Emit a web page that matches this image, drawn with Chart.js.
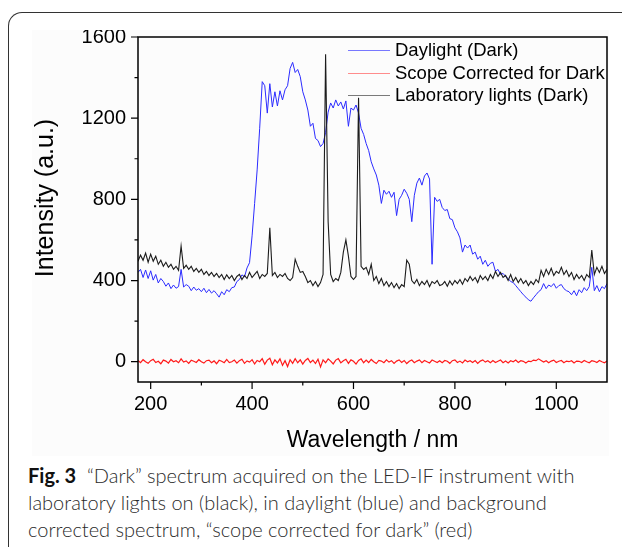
<!DOCTYPE html>
<html>
<head>
<meta charset="utf-8">
<title>Dark spectrum – LED-IF</title>
<script src="https://cdn.jsdelivr.net/npm/chart.js@4/dist/chart.umd.min.js"></script>
<style>
    html, body { margin: 0; padding: 0; background: #fff; overflow: hidden; }
    body { width: 622px; height: 547px; position: relative; }
    .frame {
        position: absolute; left: 8px; top: 12px; width: 660px; height: 600px;
        border-left: 1.5px solid #333; border-top: 1.5px solid #333;
        border-top-left-radius: 14px;
    }
    #spectrumChart { position: absolute; left: 32px; top: 30px; background: #fcfcfc; }
    .caption {
        position: absolute; left: 28px; top: 462px; width: 590px;
        font-family: 'Lato', 'Open Sans', sans-serif; font-weight: 300;
        font-size: 20px; line-height: 27px; color: #2a2a2a;
    }
    .caption b { font-weight: 700; color: #111; }
</style>
</head>
<body>
<div class="frame"></div>
<canvas id="spectrumChart" width="577" height="426"></canvas>
<div class="caption">
    <b>Fig. 3</b>&nbsp; “Dark” spectrum acquired on the LED-IF instrument with<br>
    laboratory lights on (black), in daylight (blue) and background<br>
    corrected spectrum, “scope corrected for dark” (red)
</div>

<script>
// Wavelength grid (nm), 5 nm steps
const wavelengths = [
    175, 180, 185, 190, 195, 200, 205, 210, 215, 220,
    225, 230, 235, 240, 245, 250, 255, 260, 265, 270,
    275, 280, 285, 290, 295, 300, 305, 310, 315, 320,
    325, 330, 335, 340, 345, 350, 355, 360, 365, 370,
    375, 380, 385, 390, 395, 400, 405, 410, 415, 420,
    425, 430, 435, 440, 445, 450, 455, 460, 465, 470,
    475, 480, 485, 490, 495, 500, 505, 510, 515, 520,
    525, 530, 535, 540, 545, 550, 555, 560, 565, 570,
    575, 580, 585, 590, 595, 600, 605, 610, 615, 620,
    625, 630, 635, 640, 645, 650, 655, 660, 665, 670,
    675, 680, 685, 690, 695, 700, 705, 710, 715, 720,
    725, 730, 735, 740, 745, 750, 755, 760, 765, 770,
    775, 780, 785, 790, 795, 800, 805, 810, 815, 820,
    825, 830, 835, 840, 845, 850, 855, 860, 865, 870,
    875, 880, 885, 890, 895, 900, 905, 910, 915, 920,
    925, 930, 935, 940, 945, 950, 955, 960, 965, 970,
    975, 980, 985, 990, 995, 1000, 1005, 1010, 1015, 1020,
    1025, 1030, 1035, 1040, 1045, 1050, 1055, 1060, 1065, 1070,
    1075, 1080, 1085, 1090, 1095, 1100
];

// Daylight (Dark)
const daylight = [
    440, 455, 415, 452, 410, 448, 402, 430, 388, 410,
    395, 372, 388, 360, 378, 362, 370, 455, 368, 380,
    372, 350, 368, 352, 360, 345, 362, 340, 356, 338,
    350, 335, 318, 345, 330, 355, 345, 365, 368, 395,
    405, 428, 418, 462, 488, 620, 780, 945, 1150, 1380,
    1360, 1225, 1370, 1255, 1330, 1260, 1335, 1290, 1340, 1360,
    1445, 1475, 1425, 1440, 1405, 1330, 1290, 1240, 1160, 1175,
    1100, 1090, 1060, 1075, 1130, 1230, 1275, 1250, 1290, 1260,
    1280, 1245, 1285, 1160, 1250, 1240, 1265, 1225, 1150, 1120,
    1075, 1040, 985, 950, 920, 870, 780, 845, 825, 840,
    810, 835, 720, 800, 820, 850, 830, 800, 690, 820,
    880, 905, 870, 915, 930, 900, 480, 810, 790, 800,
    760, 745, 750, 705, 700, 660, 640, 610, 540, 575,
    560, 575, 530, 540, 505, 520, 480, 500, 470, 485,
    490, 445, 455, 430, 435, 420, 410, 395, 390, 375,
    360, 345, 330, 318, 305, 298, 315, 330, 345, 355,
    385, 360, 378, 370, 385, 362, 375, 380, 360, 350,
    345, 330, 350, 325, 355, 340, 365, 350, 370, 465,
    350, 375, 345, 370, 360, 385
];

// Scope Corrected for Dark
const scopeCorrected = [
    6, -5, 10, 0, -8, 5, 12, -4, 2, -10,
    8, 3, -7, 11, 0, 5, -5, 14, -2, 4,
    -8, 7, 2, -4, 10, 0, -7, 5, 8, -5,
    4, -10, 7, 2, -5, 11, -4, 0, 8, -7,
    5, 12, -8, 4, -2, 10, -11, 6, 0, 15,
    -12, 8, 17, -15, 9, -6, 14, -18, 5, -24,
    10, -8, 15, -5, 9, -12, 6, 16, -4, 8,
    -9, 12, -26, 9, -5, 14, 3, -11, 8, 15,
    -6, 5, 12, -8, 9, 2, -12, 6, 14, -5,
    8, -4, 11, 0, -9, 6, 3, -5, 9, -2,
    5, -8, 3, 9, -4, 6, -9, 2, 8, -5,
    3, 9, -5, 6, 0, -6, 8, 2, -4, 5,
    -5, 6, 2, -8, 5, 9, -4, 3, -6, 8,
    0, 5, -4, 6, -8, 3, 9, -2, 5, -5,
    6, -4, 2, 8, -5, 3, -6, 5, 0, 8,
    -4, 5, 2, -6, 3, 0, 8, 5, 14, 6,
    -2, 5, -5, 3, 8, -4, 2, 6, -5, 3,
    0, 5, -6, 3, 2, -4, 6, 0, -5, 5,
    2, -4, 6, 0, -5, 3
];

// Laboratory lights (Dark)
const labLights = [
    495, 525, 500, 535, 490, 530, 495, 520, 480, 500,
    470, 490, 465, 480, 455, 470, 450, 570, 460, 475,
    455, 470, 445, 460, 440, 455, 430, 445, 425, 440,
    420, 435, 415, 430, 405, 428, 410, 425, 400, 420,
    430, 405, 425, 410, 440, 415, 430, 445, 410, 430,
    420, 435, 660, 425, 440, 415, 430, 420, 435, 410,
    400, 415, 505, 470, 440, 445, 420, 390, 400, 375,
    395, 370, 390, 430, 1515, 690, 430, 395, 410, 400,
    440, 540, 600, 520, 420, 405, 420, 1300, 470, 455,
    465, 430, 480, 400, 420, 385, 410, 375, 395, 370,
    390, 365, 385, 360, 380, 370, 500, 480, 400, 385,
    405, 375, 395, 380, 400, 370, 395, 385, 400, 375,
    380, 395, 372, 398, 378, 400, 385, 405, 382, 410,
    395, 420, 400, 415, 390, 425, 405, 420, 400, 430,
    410, 445, 420, 440, 415, 425, 400, 430, 395, 415,
    390, 410, 385, 400, 375, 395, 380, 405, 390, 450,
    420, 455, 430, 460, 425, 445, 435, 465, 430, 450,
    420, 440, 405, 430, 410, 425, 400, 430, 415, 550,
    430, 465, 440, 470, 435, 455
];

// Axis ticks
const xTickValues = [200, 400, 600, 800, 1000];
const xMinorTicks = [300, 500, 700, 900];
const yTickValues = [0, 400, 800, 1200, 1600];
const yMinorTicks = [200, 600, 1000, 1400];

const FONT = "'Liberation Sans', Arial, sans-serif";
const Y_TITLE = 'Intensity (a.u.)';

// Pair each series with the wavelength grid for the linear x scale
const toPoints = values => values.map((v, i) => ({ x: wavelengths[i], y: v }));

// Legend entries, in the order they are listed on the plot
const legendItems = [
    { label: 'Daylight (Dark)', color: '#7878ff' },
    { label: 'Scope Corrected for Dark', color: '#ff8c8c' },
    { label: 'Laboratory lights (Dark)', color: '#7a7a7a' }
];

// Plot frame, outward tick marks, y title and the in-plot legend
const framePlugin = {
    id: 'frameAndTicks',
    afterDraw(chart) {
        const { ctx, chartArea: area, scales } = chart;
        ctx.save();
        ctx.strokeStyle = '#000';
        ctx.lineWidth = 1.5;
        ctx.strokeRect(area.left, area.top, area.right - area.left, area.bottom - area.top);

        ctx.lineWidth = 1.2;
        ctx.beginPath();
        xTickValues.forEach(v => {
            const px = scales.x.getPixelForValue(v);
            ctx.moveTo(px, area.bottom); ctx.lineTo(px, area.bottom + 7);
        });
        xMinorTicks.forEach(v => {
            const px = scales.x.getPixelForValue(v);
            ctx.moveTo(px, area.bottom); ctx.lineTo(px, area.bottom + 3.5);
        });
        yTickValues.forEach(v => {
            const py = scales.y.getPixelForValue(v);
            ctx.moveTo(area.left, py); ctx.lineTo(area.left - 7, py);
        });
        yMinorTicks.forEach(v => {
            const py = scales.y.getPixelForValue(v);
            ctx.moveTo(area.left, py); ctx.lineTo(area.left - 3.5, py);
        });
        ctx.stroke();

        // rotated y axis title, sitting a little above the axis centre
        ctx.save();
        ctx.translate(14, area.top + 161);
        ctx.rotate(-Math.PI / 2);
        ctx.font = `25px ${FONT}`;
        ctx.textAlign = 'center';
        ctx.textBaseline = 'middle';
        ctx.fillStyle = '#000';
        ctx.fillText(Y_TITLE, 0, 0);
        ctx.restore();

        // legend
        ctx.font = `18.5px ${FONT}`;
        ctx.textBaseline = 'middle';
        ctx.fillStyle = '#000';
        legendItems.forEach((item, i) => {
            const y = Math.round(area.top + 13 + i * 22.5) + 0.5;
            ctx.strokeStyle = item.color;
            ctx.lineWidth = 1;
            ctx.beginPath();
            ctx.moveTo(area.left + 210, y);
            ctx.lineTo(area.left + 252, y);
            ctx.stroke();
            ctx.fillText(item.label, area.left + 257, y);
        });
        ctx.restore();
    }
};

const lineStyle = (color, width) => ({
    borderColor: color,
    backgroundColor: color,
    borderWidth: width,
    pointRadius: 0,
    tension: 0,
    fill: false
});

// Tick labels are printed as plain integers (no thousands separator)
const plainLabel = value => String(value);

new Chart(document.getElementById('spectrumChart'), {
    type: 'line',
    data: {
        datasets: [
            { label: 'Daylight (Dark)', data: toPoints(daylight), order: 1, ...lineStyle('#2b2bff', 1) },
            { label: 'Scope Corrected for Dark', data: toPoints(scopeCorrected), order: 2, ...lineStyle('#ff1a1a', 1.2) },
            { label: 'Laboratory lights (Dark)', data: toPoints(labLights), order: 0, ...lineStyle('#1c1c1c', 1.1) }
        ]
    },
    options: {
        responsive: false,
        animation: false,
        devicePixelRatio: 1,
        layout: { padding: { left: 0, top: 7, right: 2, bottom: 0 } },
        plugins: {
            legend: { display: false },
            tooltip: { enabled: false }
        },
        scales: {
            x: {
                type: 'linear',
                min: 175,
                max: 1100,
                afterBuildTicks: scale => { scale.ticks = xTickValues.map(v => ({ value: v })); },
                afterFit: scale => {
                    scale.height = 74;
                    scale.paddingLeft = 0;
                    scale.paddingRight = 0;
                },
                grid: { display: false, drawTicks: false, tickLength: 0 },
                border: { display: false },
                ticks: {
                    color: '#000',
                    padding: 10,
                    maxRotation: 0,
                    autoSkip: false,
                    callback: plainLabel,
                    font: { family: FONT, size: 20 }
                },
                title: {
                    display: true,
                    text: 'Wavelength / nm',
                    color: '#000',
                    font: { family: FONT, size: 23 },
                    padding: { top: 0, bottom: 2 }
                }
            },
            y: {
                min: -100,
                max: 1600,
                afterBuildTicks: scale => { scale.ticks = yTickValues.map(v => ({ value: v })); },
                afterFit: scale => {
                    scale.width = 106;
                    scale.paddingTop = 0;
                    scale.paddingBottom = 0;
                },
                grid: { display: false, drawTicks: false, tickLength: 0 },
                border: { display: false },
                ticks: {
                    color: '#000',
                    padding: 12,
                    callback: plainLabel,
                    font: { family: FONT, size: 20 }
                }
            }
        }
    },
    plugins: [framePlugin]
});
</script>
</body>
</html>
